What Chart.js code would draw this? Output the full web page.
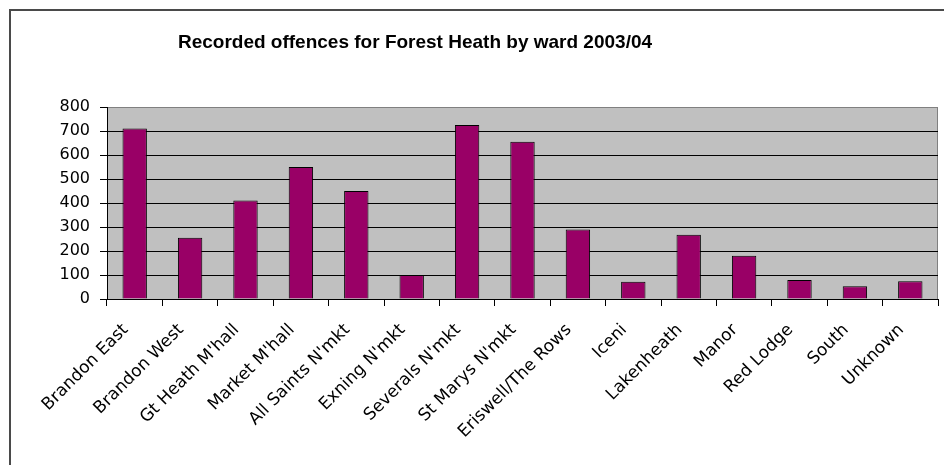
<!DOCTYPE html>
<html>
<head>
<meta charset="utf-8">
<script src="https://cdn.jsdelivr.net/npm/chart.js@4/dist/chart.umd.min.js"></script>
<style>
  html, body { margin: 0; padding: 0; background: #fff; }
  #wrap { width: 944px; height: 465px; position: relative; }
</style>
</head>
<body>
<div id="wrap"><canvas id="cv"></canvas></div>
<script>
// data
var wards = ["Brandon East", "Brandon West", "Gt Heath M'hall", "Market M'hall", "All Saints N'mkt",
  "Exning N'mkt", "Severals N'mkt", "St Marys N'mkt", "Eriswell/The Rows", "Iceni",
  "Lakenheath", "Manor", "Red Lodge", "South", "Unknown"];
var offences = [710, 255, 410, 550, 450, 100, 725, 655, 290, 72, 268, 180, 79, 53, 74];
var yTicks = [0, 100, 200, 300, 400, 500, 600, 700, 800];
var chartTitle = "Recorded offences for Forest Heath by ward 2003/04";

// grey plot background, frame and title
var backdrop = {
  id: 'backdrop',
  beforeDraw: function (chart) {
    var ctx = chart.ctx, a = chart.chartArea;
    ctx.save();
    ctx.fillStyle = '#c0c0c0';
    ctx.fillRect(a.left, a.top, a.right - a.left, a.bottom - a.top);
    ctx.strokeStyle = '#808080';
    ctx.lineWidth = 1;
    ctx.strokeRect(a.left + 0.5, a.top + 0.5, a.right - a.left - 1, a.bottom - a.top);
    // outer chart frame (cropped at right and bottom)
    ctx.strokeStyle = '#4a4a4a';
    ctx.lineWidth = 2;
    ctx.beginPath();
    ctx.moveTo(10, chart.height);
    ctx.lineTo(10, 10);
    ctx.lineTo(chart.width, 10);
    ctx.stroke();
    // title
    ctx.fillStyle = '#000';
    ctx.font = 'bold 19px "Liberation Sans", Arial, sans-serif';
    ctx.textAlign = 'center';
    ctx.textBaseline = 'middle';
    ctx.fillText(chartTitle, 415, 43);
    ctx.restore();
  }
};

new Chart(document.getElementById('cv'), {
  type: 'bar',
  data: {
    labels: wards,
    datasets: [{
      label: 'Offences',
      data: offences,
      backgroundColor: '#990066',
      borderColor: '#000',
      borderWidth: 1,
      barPercentage: 0.44,
      categoryPercentage: 1
    }]
  },
  options: {
    responsive: true,
    maintainAspectRatio: false,
    animation: false,
    layout: { padding: { top: 107, left: 12, right: 6, bottom: 0 } },
    plugins: { legend: { display: false }, tooltip: { enabled: false } },
    scales: {
      x: {
        afterFit: function (s) { s.height = 166; },
        border: { color: '#000', width: 1 },
        grid: { display: true, drawOnChartArea: false, drawTicks: true, tickLength: 7, color: '#000', offset: true },
        ticks: {
          color: '#000', font: { family: '"DejaVu Sans", sans-serif', size: 17 },
          maxRotation: 45, minRotation: 45, autoSkip: false, padding: 14, labelOffset: -9
        }
      },
      y: {
        min: 0,
        max: 800,
        afterFit: function (s) { s.width = 95; },
        afterBuildTicks: function (s) { s.ticks = yTicks.map(function (v) { return { value: v }; }); },
        border: { color: '#000', width: 1 },
        grid: {
          color: function (c) { return c.tick && c.tick.value === 800 ? '#808080' : '#000'; },
          tickColor: '#000',
          tickLength: 7
        },
        ticks: { color: '#000', font: { family: '"DejaVu Sans", sans-serif', size: 16 }, padding: 10 }
      }
    }
  },
  plugins: [backdrop]
});
</script>
</body>
</html>
